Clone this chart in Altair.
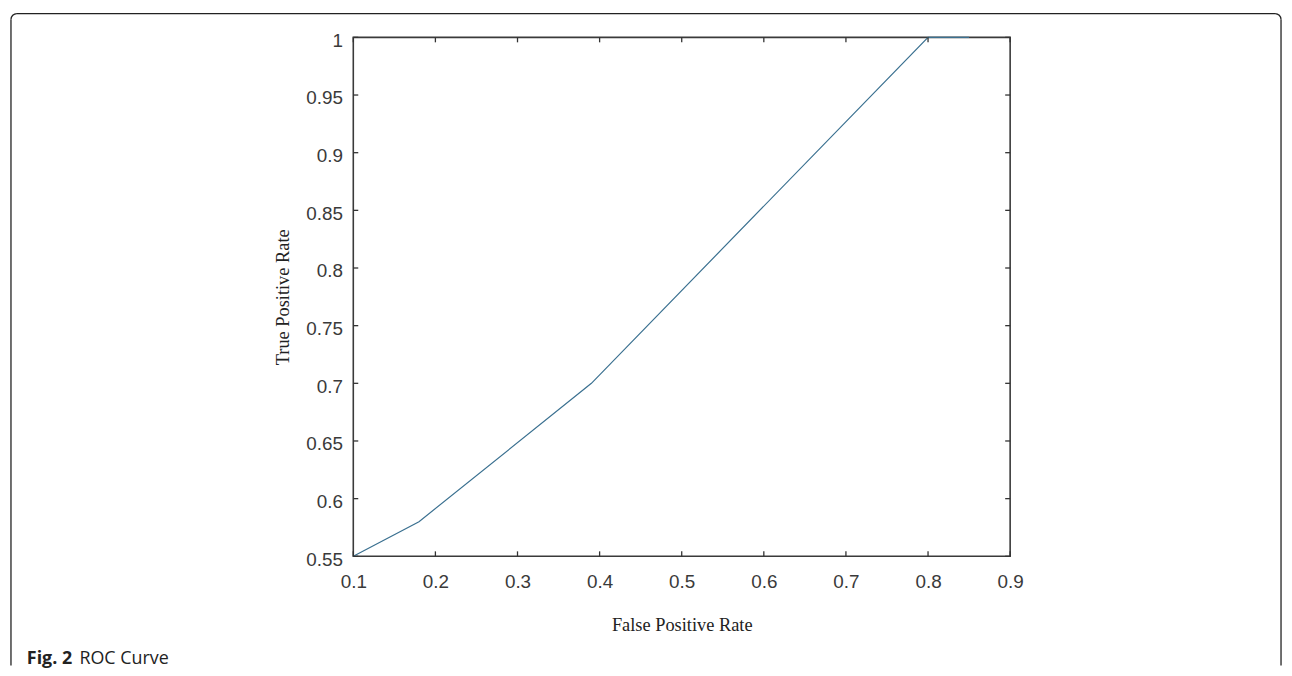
import altair as alt
import pandas as pd

# ---- data ----
fpr = [0.10, 0.18, 0.39, 0.80, 0.85]
tpr = [0.55, 0.58, 0.70, 1.00, 1.00]
x_ticks = [0.1, 0.2, 0.3, 0.4, 0.5, 0.6, 0.7, 0.8, 0.9]
y_ticks = [0.55, 0.6, 0.65, 0.7, 0.75, 0.8, 0.85, 0.9, 0.95, 1.0]
x_title = "False Positive Rate"
y_title = "True Positive Rate"
caption_bold = "Fig. 2"
caption_text = "ROC Curve"

W, H = 662, 523
AX = "#333333"
LINE = "#3a7090"

xs = alt.Scale(domain=[0.1, 0.9], nice=False, zero=False)
ys = alt.Scale(domain=[0.55, 1.0], nice=False, zero=False)

roc = pd.DataFrame({"fpr": fpr, "tpr": tpr})
xt = pd.DataFrame({"v": x_ticks})
yt = pd.DataFrame({"v": y_ticks})
one = alt.Data(values=[{"k": 0}])

common_axis = dict(grid=False, ticks=False, tickSize=0, domain=False,
                   labelFont="Liberation Sans", labelFontSize=19, labelColor="#3a3a3a",
                   labelFlush=False, labelOverlap=False, labelBound=False,
                   titleFont="Liberation Serif", titleFontSize=18.5,
                   titleFontWeight="normal", titleColor="#222222")

x_axis = alt.Axis(values=x_ticks, format="~g", title=x_title,
                  labelBaseline="alphabetic", labelPadding=31,
                  titleX=W / 2, titleY=75, titleBaseline="alphabetic",
                  titleAlign="center", **common_axis)
y_axis = alt.Axis(values=y_ticks, format="~g", title=y_title,
                  labelPadding=11, labelOffset=3,
                  titleAngle=270, titleX=-71, titleY=H / 2,
                  titleBaseline="middle", titleAlign="center", **common_axis)

line = alt.Chart(roc).mark_line(color=LINE, strokeWidth=1.2).encode(
    x=alt.X("fpr:Q", scale=xs, axis=x_axis, title=x_title),
    y=alt.Y("tpr:Q", scale=ys, axis=y_axis, title=y_title),
)

tk = dict(color=AX, strokeWidth=1.3)
bottom_ticks = alt.Chart(xt).mark_rule(**tk).encode(
    x=alt.X("v:Q", scale=xs, axis=x_axis, title=x_title),
    y=alt.value(H), y2=alt.value(H - 5))
top_ticks = alt.Chart(xt).mark_rule(**tk).encode(
    x=alt.X("v:Q", scale=xs, axis=x_axis, title=x_title),
    y=alt.value(0), y2=alt.value(5))
left_ticks = alt.Chart(yt).mark_rule(**tk).encode(
    y=alt.Y("v:Q", scale=ys, axis=y_axis, title=y_title),
    x=alt.value(0), x2=alt.value(5))
right_ticks = alt.Chart(yt).mark_rule(**tk).encode(
    y=alt.Y("v:Q", scale=ys, axis=y_axis, title=y_title),
    x=alt.value(W), x2=alt.value(W - 5))

# figure border (open at the bottom, rounded top corners)
BL, BT, BR, BB, R = -345, -24, 935, 633, 6
bd = dict(color="#222222", strokeWidth=1.3)
border_top = alt.Chart(one).mark_rule(**bd).encode(
    x=alt.value(BL + R), x2=alt.value(BR - R), y=alt.value(BT))
border_left = alt.Chart(one).mark_rule(**bd).encode(
    x=alt.value(BL), y=alt.value(BT + R), y2=alt.value(BB))
border_right = alt.Chart(one).mark_rule(**bd).encode(
    x=alt.value(BR), y=alt.value(BT + R), y2=alt.value(BB))
corner_tl = alt.Chart(one).mark_arc(radius=R, radius2=R, theta=4.7124, theta2=6.2832,
                                    stroke="#222222", strokeWidth=1.3, fillOpacity=0).encode(
    x=alt.value(BL + R), y=alt.value(BT + R))
corner_tr = alt.Chart(one).mark_arc(radius=R, radius2=R, theta=0, theta2=1.5708,
                                    stroke="#222222", strokeWidth=1.3, fillOpacity=0).encode(
    x=alt.value(BR - R), y=alt.value(BT + R))

cap1 = alt.Chart(one).mark_text(align="left", baseline="alphabetic", font="Open Sans",
                                fontSize=18, fontWeight="bold", color="#222222").encode(
    x=alt.value(-329), y=alt.value(632), text=alt.value(caption_bold))
cap2 = alt.Chart(one).mark_text(align="left", baseline="alphabetic", font="Open Sans",
                                fontSize=18, fontWeight="normal", color="#222222").encode(
    x=alt.value(-276), y=alt.value(632), text=alt.value(caption_text))

chart = alt.layer(
    line, bottom_ticks, top_ticks, left_ticks, right_ticks,
    border_top, border_left, border_right, corner_tl, corner_tr, cap1, cap2,
).properties(width=W, height=H, padding=0, background="white").configure_view(
    stroke="#3a3a3a", strokeWidth=1.6)

chart.save("out.html", embed_options={"renderer": "svg", "actions": False})
